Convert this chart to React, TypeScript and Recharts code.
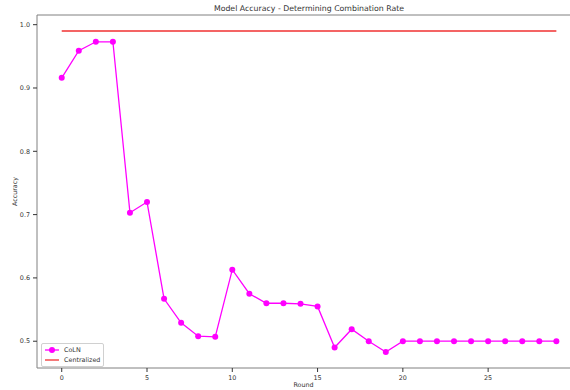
import React from "react";
import {
  CartesianGrid,
  Legend,
  Line,
  LineChart,
  ReferenceLine,
  XAxis,
  YAxis,
} from "recharts";

// accuracy per training round
const rounds = [
  0, 1, 2, 3, 4, 5, 6, 7, 8, 9, 10, 11, 12, 13, 14, 15, 16, 17, 18, 19, 20, 21,
  22, 23, 24, 25, 26, 27, 28, 29,
];
const colnAccuracy = [
  0.916, 0.959, 0.973, 0.973, 0.703, 0.72, 0.567, 0.529, 0.508, 0.507, 0.613,
  0.575, 0.56, 0.56, 0.559, 0.555, 0.49, 0.519, 0.5, 0.483, 0.5, 0.5, 0.5, 0.5,
  0.5, 0.5, 0.5, 0.5, 0.5, 0.5,
];
const centralizedAccuracy = 0.99;

const xTicks = [0, 5, 10, 15, 20, 25];
const yTicks = [0.5, 0.6, 0.7, 0.8, 0.9, 1.0];

const X_DOMAIN: [number, number] = [-1.45, 29.8];
const Y_DOMAIN: [number, number] = [0.4577, 1.0153];

const FONT = "'DejaVu Sans', sans-serif";
const TEXT = "#333";
const SPINE = "#808080";

const data = rounds.map((r, i) => ({
  round: r,
  coln: colnAccuracy[i],
  centralized: centralizedAccuracy,
}));

function LegendBox() {
  return (
    <div
      style={{
        border: "1px solid #d0d0d0",
        borderRadius: 2,
        background: "rgba(255,255,255,0.8)",
        padding: "1px 3px 1px 2px",
        fontFamily: FONT,
        fontSize: 6.4,
        color: TEXT,
        lineHeight: "10px",
      }}
    >
      <div style={{ display: "flex", alignItems: "center" }}>
        <svg width={16} height={10}>
          <line x1={1} x2={15} y1={5} y2={5} stroke="#ff00ff" strokeWidth={1.3} />
          <circle cx={8} cy={5} r={3} fill="#ff00ff" />
        </svg>
        <span style={{ marginLeft: 4 }}>CoLN</span>
      </div>
      <div style={{ display: "flex", alignItems: "center" }}>
        <svg width={16} height={10}>
          <line x1={1} x2={15} y1={5} y2={5} stroke="#f03030" strokeWidth={1.3} />
        </svg>
        <span style={{ marginLeft: 4 }}>Centralized</span>
      </div>
    </div>
  );
}

function YTitle(props: any) {
  const vb = props.viewBox;
  const x = vb.x + 15;
  const y = vb.y + vb.height / 2;
  return (
    <text
      x={x}
      y={y}
      transform={`rotate(-90 ${x} ${y})`}
      textAnchor="middle"
      dominantBaseline="central"
      fontSize={6.4}
      fontFamily={FONT}
      fill={TEXT}
    >
      Accuracy
    </text>
  );
}

export default function App() {
  return (
    <div
      style={{
        position: "absolute",
        top: 0,
        left: 0,
        width: 570,
        height: 390,
        overflow: "hidden",
        background: "#fff",
        fontFamily: FONT,
      }}
    >
      <div
        style={{
          position: "absolute",
          top: 5,
          left: 37,
          width: 544,
          textAlign: "center",
          fontSize: 7.8,
          lineHeight: 1,
          color: TEXT,
        }}
      >
        Model Accuracy - Determining Combination Rate
      </div>
      <LineChart
        width={570}
        height={390}
        data={data}
        margin={{ top: 15, right: 0, left: 0, bottom: 2 }}
      >
        <CartesianGrid stroke="none" />
        <XAxis
          dataKey="round"
          type="number"
          domain={X_DOMAIN}
          ticks={xTicks}
          allowDataOverflow
          height={20}
          tickSize={4}
          tickMargin={3}
          stroke={SPINE}
          tick={{ fontSize: 6.4, fill: TEXT, fontFamily: FONT }}
          tickLine={{ stroke: TEXT }}
          label={{
            value: "Round",
            position: "insideBottom",
            offset: 1,
            fontSize: 6.4,
            fill: TEXT,
            fontFamily: FONT,
          }}
        />
        <YAxis
          type="number"
          domain={Y_DOMAIN}
          ticks={yTicks}
          allowDataOverflow
          width={37}
          tickSize={4}
          tickMargin={3}
          stroke={SPINE}
          tick={{ fontSize: 6.4, fill: TEXT, fontFamily: FONT }}
          tickLine={{ stroke: TEXT }}
          tickFormatter={(v: number) => v.toFixed(1)}
          label={<YTitle />}
        />
        <ReferenceLine y={Y_DOMAIN[1]} stroke={SPINE} strokeWidth={1} />
        <Line
          dataKey="coln"
          name="CoLN"
          stroke="#ff00ff"
          strokeWidth={1.3}
          dot={{ r: 3, fill: "#ff00ff", stroke: "#ff00ff", strokeWidth: 0 }}
          activeDot={false}
          isAnimationActive={false}
        />
        <Line
          dataKey="centralized"
          name="Centralized"
          stroke="#f03030"
          strokeWidth={1.3}
          dot={false}
          activeDot={false}
          isAnimationActive={false}
        />
        <Legend
          layout="vertical"
          align="center"
          verticalAlign="middle"
          content={<LegendBox />}
          wrapperStyle={{ left: 41, top: 343, width: "auto", height: "auto", bottom: "auto" }}
        />
      </LineChart>
    </div>
  );
}
